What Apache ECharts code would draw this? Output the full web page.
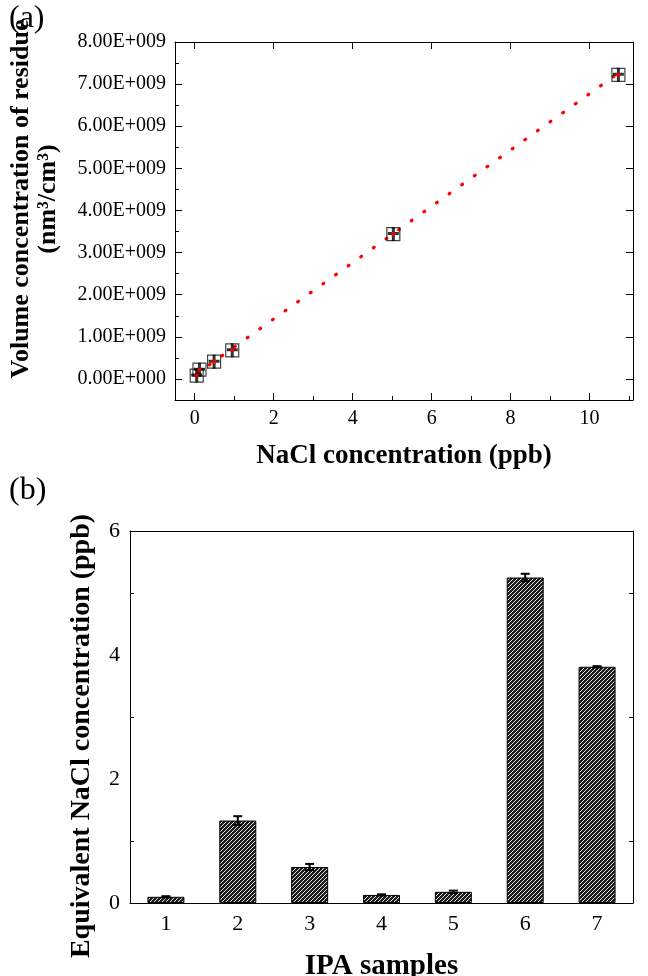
<!DOCTYPE html>
<html lang="en">
<head>
  <meta charset="utf-8"/>
  <script src="https://cdn.jsdelivr.net/npm/echarts@6/dist/echarts.min.js"></script>
  <style>
    html, body { margin: 0; padding: 0; background: #fff; }
    #chart { width: 648px; height: 976px; }
  </style>
</head>
<body>
<div id="chart"></div>
<script>
  // (a) calibration points
  var naclPpb = [0.05, 0.12, 0.49, 0.95, 5.03, 10.73];
  var volConc = [0.08e9, 0.22e9, 0.41e9, 0.68e9, 3.44e9, 7.22e9];
  // fit line end points
  var fitX = [0.05, 10.7];
  var fitY = [0.12e9, 7.24e9];
  var xTicksA = [0, 2, 4, 6, 8, 10];
  var xMinorA = [1, 3, 5, 7, 9, 11];
  var yTicksA = [0, 1e9, 2e9, 3e9, 4e9, 5e9, 6e9, 7e9, 8e9];
  var yMinorA = [0.5e9, 1.5e9, 2.5e9, 3.5e9, 4.5e9, 5.5e9, 6.5e9, 7.5e9];

  // (b) IPA samples
  var samples = ['1', '2', '3', '4', '5', '6', '7'];
  var eqConc = [0.10, 1.33, 0.58, 0.13, 0.18, 5.25, 3.81];
  var eqErr = [0.01, 0.07, 0.05, 0.01, 0.02, 0.06, 0.01];

  var FONT = '"Liberation Serif", "Times New Roman", serif';

  // hatched fill for the bars
  function hatchCanvas() {
      var c = document.createElement('canvas');
      c.width = 4; c.height = 4;
      var g = c.getContext('2d');
      g.fillStyle = '#1c1c1c';
      g.fillRect(0, 0, 4, 4);
      g.strokeStyle = '#e6e6e6';
      g.lineWidth = 1;
      g.beginPath();
      g.moveTo(-1, 5); g.lineTo(5, -1);
      g.moveTo(-1, 1); g.lineTo(1, -1);
      g.moveTo(3, 5); g.lineTo(5, 3);
      g.stroke();
      return c;
  }

  function sciLabel(v) {
      if (v === 0) return '0.00E+000';
      return (v / 1e9).toFixed(2) + 'E+009';
  }

  var fitData = fitX.map(function (x, i) { return [x, fitY[i]]; });
  var pts = naclPpb.map(function (x, i) { return [x, volConc[i]]; });
  var errData = eqErr.map(function (e, i) { return [i, eqConc[i] - e, eqConc[i] + e]; });

  var lineBlack = { show: true, onZero: false, lineStyle: { color: '#000', width: 1 } };
  var labelA = { fontFamily: FONT, fontSize: 20, color: '#000' };
  var labelB = { fontFamily: FONT, fontSize: 22, color: '#000' };
  var tickMajor = { inside: true, length: 7, lineStyle: { color: '#000' } };
  var tickMinor = { inside: true, length: 4, lineStyle: { color: '#000' } };

  var chart = echarts.init(document.getElementById('chart'), null, { renderer: 'canvas' });

  var option = {
      animation: false,
      backgroundColor: '#fff',
      grid: [
          { left: 175, top: 42, right: 15, height: 358, outerBoundsMode: 'none' },
          { left: 130, top: 531, right: 15, height: 372, outerBoundsMode: 'none' }
      ],
      graphic: [
          { type: 'text', left: 9, top: 3, style: { text: '(a)', font: '32px ' + FONT, fill: '#000' } },
          { type: 'text', left: 9, top: 475, style: { text: '(b)', font: '32px ' + FONT, fill: '#000' } },
          {
              type: 'text', x: 35, y: 199, rotation: Math.PI / 2,
              style: {
                  text: 'Volume concentration of residue\n(nm³/cm³)',
                  font: 'bold 26px ' + FONT, fill: '#000', lineHeight: 27,
                  align: 'center', verticalAlign: 'middle'
              }
          },
          {
              type: 'text', x: 82, y: 736, rotation: Math.PI / 2,
              style: {
                  text: 'Equivalent NaCl concentration (ppb)',
                  font: 'bold 28px ' + FONT, fill: '#000',
                  align: 'center', verticalAlign: 'middle'
              }
          }
      ],
      xAxis: [
          {
              gridIndex: 0, type: 'value', min: -0.5, max: 11.1, position: 'bottom',
              name: 'NaCl concentration (ppb)', nameLocation: 'middle', nameGap: 43,
              nameTextStyle: { fontFamily: FONT, fontSize: 27, fontWeight: 'bold', color: '#000' },
              axisLine: lineBlack,
              axisTick: Object.assign({ customValues: xTicksA }, tickMajor),
              axisLabel: Object.assign({ margin: 9, customValues: xTicksA }, labelA),
              splitLine: { show: false }
          },
          {
              gridIndex: 0, type: 'value', min: -0.5, max: 11.1, position: 'bottom',
              axisLine: { show: false, onZero: false },
              axisTick: Object.assign({ customValues: xMinorA }, tickMinor),
              axisLabel: { show: false }, splitLine: { show: false }
          },
          {
              gridIndex: 0, type: 'value', min: -0.5, max: 11.1, position: 'top',
              axisLine: lineBlack,
              axisTick: Object.assign({ customValues: xTicksA }, tickMajor),
              axisLabel: { show: false }, splitLine: { show: false }
          },
          {
              gridIndex: 1, type: 'category', data: samples, position: 'bottom',
              name: 'IPA samples', nameLocation: 'middle', nameGap: 49,
              nameTextStyle: { fontFamily: FONT, fontSize: 29, fontWeight: 'bold', color: '#000' },
              axisLine: lineBlack,
              axisTick: { show: false },
              axisLabel: Object.assign({ margin: 10 }, labelB)
          },
          {
              gridIndex: 1, type: 'category', data: samples, position: 'top',
              axisLine: lineBlack, axisTick: { show: false }, axisLabel: { show: false }
          }
      ],
      yAxis: [
          {
              gridIndex: 0, type: 'value', min: -0.5e9, max: 8e9, position: 'left',
              axisLine: lineBlack,
              axisTick: Object.assign({ customValues: yTicksA }, tickMajor),
              axisLabel: Object.assign({ margin: 9, customValues: yTicksA, formatter: sciLabel }, labelA),
              splitLine: { show: false }
          },
          {
              gridIndex: 0, type: 'value', min: -0.5e9, max: 8e9, position: 'left',
              axisLine: { show: false, onZero: false },
              axisTick: Object.assign({ customValues: yMinorA }, tickMinor),
              axisLabel: { show: false }, splitLine: { show: false }
          },
          {
              gridIndex: 0, type: 'value', min: -0.5e9, max: 8e9, position: 'right',
              axisLine: lineBlack,
              axisTick: Object.assign({ customValues: yTicksA }, tickMajor),
              axisLabel: { show: false }, splitLine: { show: false }
          },
          {
              gridIndex: 1, type: 'value', min: 0, max: 6, interval: 2, position: 'left',
              axisLine: lineBlack,
              axisTick: tickMajor,
              minorTick: { show: true, splitNumber: 2, length: 4, lineStyle: { color: '#000' } },
              axisLabel: Object.assign({ margin: 10 }, labelB),
              splitLine: { show: false }
          },
          {
              gridIndex: 1, type: 'value', min: 0, max: 6, interval: 2, position: 'right',
              axisLine: lineBlack,
              axisTick: tickMajor,
              minorTick: { show: true, splitNumber: 2, length: 4, lineStyle: { color: '#000' } },
              axisLabel: { show: false }, splitLine: { show: false }
          }
      ],
      series: [
          {
              type: 'line', xAxisIndex: 0, yAxisIndex: 0, data: fitData,
              showSymbol: false, symbol: 'none',
              lineStyle: { color: '#ff0000', width: 3.2, type: [1, 14.5], cap: 'round' },
              z: 2
          },
          {
              type: 'scatter', xAxisIndex: 0, yAxisIndex: 0, data: pts,
              symbol: 'rect', symbolSize: 13,
              itemStyle: { color: 'rgba(0,0,0,0)', borderColor: '#111', borderWidth: 1.2 },
              z: 3
          },
          {
              type: 'scatter', xAxisIndex: 0, yAxisIndex: 0, data: pts,
              symbol: 'path://M4,0H7V5H11V8H7V14H4V8H0V5H4Z', symbolSize: [11, 14],
              itemStyle: { color: '#000' },
              z: 4
          },
          {
              type: 'scatter', xAxisIndex: 0, yAxisIndex: 0, data: pts,
              symbol: 'circle', symbolSize: 4.5,
              itemStyle: { color: '#ff0000' },
              z: 5
          },
          {
              type: 'bar', xAxisIndex: 3, yAxisIndex: 3, data: eqConc,
              barWidth: 37,
              itemStyle: {
                  color: { image: hatchCanvas(), repeat: 'repeat' },
                  borderColor: '#000', borderWidth: 1
              }
          },
          {
              type: 'custom', xAxisIndex: 3, yAxisIndex: 3, data: errData,
              renderItem: function (params, api) {
                  var x = api.value(0);
                  var lo = api.coord([x, api.value(1)]);
                  var hi = api.coord([x, api.value(2)]);
                  var cap = 4.5;
                  var st = { stroke: '#000', lineWidth: 2 };
                  return {
                      type: 'group',
                      children: [
                          { type: 'line', shape: { x1: lo[0], y1: lo[1], x2: hi[0], y2: hi[1] }, style: st },
                          { type: 'line', shape: { x1: hi[0] - cap, y1: hi[1], x2: hi[0] + cap, y2: hi[1] }, style: st },
                          { type: 'line', shape: { x1: lo[0] - cap, y1: lo[1], x2: lo[0] + cap, y2: lo[1] }, style: st }
                      ]
                  };
              },
              z: 6
          }
      ]
  };

  chart.setOption(option);
</script>
</body>
</html>
